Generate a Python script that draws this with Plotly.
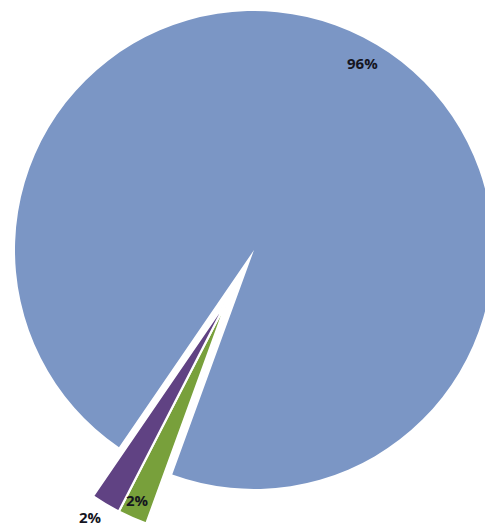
import plotly.graph_objects as go

# ---- data ----
categories = ["Category 1", "Category 2", "Category 3"]
values = [96, 2, 2]
pct_labels = ["96%", "2%", "2%"]

# ---- style / layout constants ----
BLUE = "#7b96c5"
GREEN = "#78a03b"
PURPLE = "#604283"
CLEAR = "rgba(0,0,0,0)"

OFF = 60            # page offset of the figure (px), figure extends past the window
FW, FH = 640, 640   # figure size
R = 239             # pie radius in px
C_MAIN = (254, 250)     # centre of the main pie in the window
C_PULLED = (228, 299)   # centre of the exploded small slices
ROT = 214.4


def domain(c):
    cx, cy = c[0] + OFF, c[1] + OFF
    return dict(x=[(cx - R) / FW, (cx + R) / FW],
                y=[(FH - (cy + R)) / FH, (FH - (cy - R)) / FH])


def paper(px, py):
    return (px + OFF) / FW, (FH - (py + OFF)) / FH


fig = go.Figure()
fig.add_trace(go.Pie(
    labels=categories, values=values, sort=False, direction="clockwise",
    rotation=ROT, domain=domain(C_MAIN), textinfo="none",
    marker=dict(colors=[BLUE, CLEAR, CLEAR], line=dict(width=0)),
    showlegend=False, hoverinfo="label+percent",
))
fig.add_trace(go.Pie(
    labels=categories, values=values, sort=False, direction="clockwise",
    rotation=ROT, domain=domain(C_PULLED), textinfo="none",
    marker=dict(colors=[CLEAR, GREEN, PURPLE],
                line=dict(color=[CLEAR, "white", "white"], width=[0, 2.2, 2.2])),
    showlegend=False, hoverinfo="label+percent",
))

label_pos = [(362, 63), (137, 500), (90, 517)]
for txt, (px, py) in zip(pct_labels, label_pos):
    ax, ay = paper(px, py)
    fig.add_annotation(x=ax, y=ay, xref="paper", yref="paper", text=txt,
                       showarrow=False, xanchor="center", yanchor="middle",
                       font=dict(family="Open Sans", size=15, color="#15151f", weight="bold"))

fig.update_layout(width=FW, height=FH, margin=dict(l=0, r=0, t=0, b=0),
                  paper_bgcolor="white", plot_bgcolor="white", showlegend=False)

fig.write_html(
    "out.html",
    config={"displayModeBar": False},
    post_script=(
        "document.body.style.margin='0';"
        "document.body.style.overflow='hidden';"
        "var d=document.getElementById('{plot_id}');"
        "d.style.position='relative';"
        f"d.style.left='-{OFF}px';d.style.top='-{OFF}px';"
    ),
)
